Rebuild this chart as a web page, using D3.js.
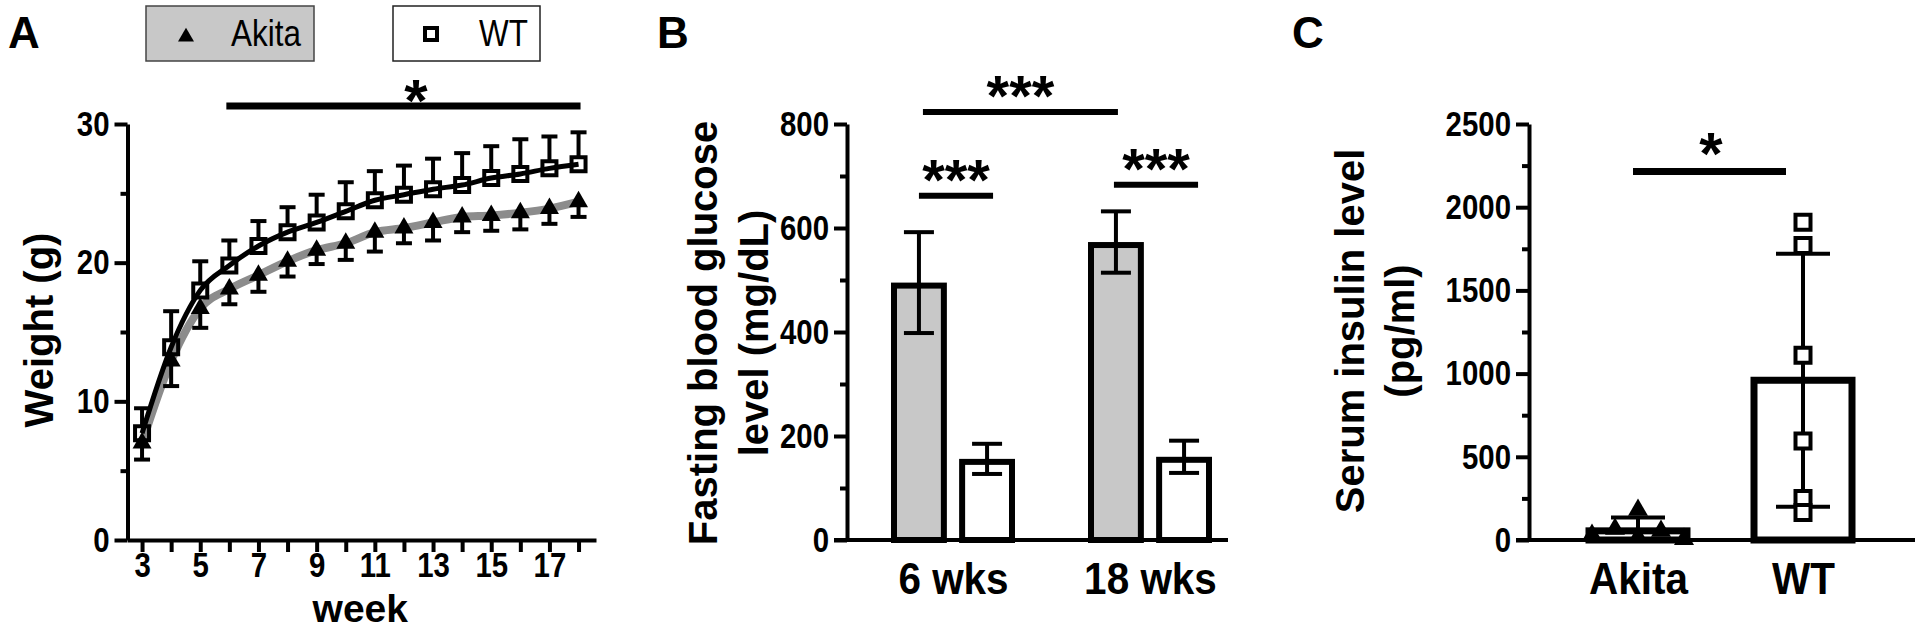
<!DOCTYPE html>
<html><head><meta charset="utf-8">
<script src="https://cdn.jsdelivr.net/npm/d3@7"></script>
<style>
html,body{margin:0;padding:0;background:#fff;}
svg{display:block;}
</style></head><body>
<svg id="chart" width="1920" height="630"></svg>
<script>
// ---------- Panel A: body weight ----------
const weeks = [3,4,5,6,7,8,9,10,11,12,13,14,15,16,17,18];
const akitaWeight   = [7.0,12.9,16.7,18.1,19.1,20.1,20.9,21.4,22.2,22.5,22.9,23.3,23.4,23.6,23.9,24.4];
const akitaWeightSD = [1.2,1.8,1.4,1.1,1.2,1.1,1.0,1.2,1.4,1.1,1.3,1.1,1.1,1.2,1.1,1.1];
const wtWeight      = [7.7,13.9,18.0,19.8,21.2,22.2,22.9,23.7,24.5,24.9,25.3,25.6,26.1,26.4,26.8,27.1];
const wtWeightSD    = [1.8,2.6,2.1,1.8,1.8,1.8,2.0,2.1,2.1,2.1,2.2,2.3,2.3,2.5,2.3,2.3];
const weightTicks = [0,10,20,30];
const weightMinorTicks = [5,15,25];
const weekLabels = [3,5,7,9,11,13,15,17];
const weightSigRange = [6,18];
const weightSigLevel = 31.3;

// ---------- Panel B: fasting glucose ----------
const glucoseGroups = ["6 wks","18 wks"];
const genotypes = ["Akita","WT"];
const akitaGlucose   = [495,573];
const akitaGlucoseSD = [97,59];
const wtGlucose      = [156,160];
const wtGlucoseSD    = [29,31];
const glucoseTicks = [0,200,400,600,800];
const glucoseMinorTicks = [100,300,500,700];
const glucoseSigLevels = [823,662,683]; // Akita 6 vs 18, 6 wks, 18 wks

// ---------- Panel C: serum insulin ----------
const insulinGroups = ["Akita","WT"];
const akitaInsulin = [30,66,180,54,5,18];
const wtInsulin    = [1910,1770,1110,595,250,165];
const insulinMean  = [55,960];
const insulinSD    = [80,760];
const akitaJitter  = [-2,-1,0,1,2,0];
const insulinTicks = [0,500,1000,1500,2000,2500];
const insulinMinorTicks = [250,750,1250,1750,2250];
const insulinSigLevel = 2215;

const FONT = '"Liberation Sans", Arial, Helvetica, sans-serif';
const svg = d3.select("#chart");

function styleAxis(g, fs, sx) {
  g.attr("font-family", null).attr("font-size", null);
  g.selectAll("path.domain").attr("stroke","#000").attr("stroke-width",4);
  g.selectAll(".tick line").attr("stroke","#000").attr("stroke-width",4);
  g.selectAll(".tick text").attr("fill","#000").style("font-family",FONT)
    .style("font-weight","bold").style("font-size",fs+"px")
    .each(function(){
      const t = d3.select(this);
      const x = +(t.attr("x") || 0);
      t.attr("x", x/sx).attr("transform", `scale(${sx},1)`);
    });
}
function minorAxis(parent, axis, x) {
  const g = parent.append("g").attr("transform",`translate(${x},0)`).call(axis);
  g.select(".domain").remove();
  g.selectAll(".tick line").attr("stroke","#000").attr("stroke-width",4);
  return g;
}
function label(x, y, txt, size, weight, anchor, rot, sx) {
  return svg.append("text").attr("x",0).attr("y",0)
    .attr("transform", `translate(${x},${y})` + (rot ? ` rotate(${rot})` : "") + (sx ? ` scale(${sx},1)` : ""))
    .style("font-family",FONT).style("font-size",size+"px")
    .style("font-weight",weight).attr("text-anchor",anchor||"start").attr("fill","#000").text(txt);
}
const triSym = (s) => d3.symbol(d3.symbolTriangle, s*s*Math.sqrt(3)/4);
const sqSym = (s) => d3.symbol(d3.symbolSquare, s*s);
const fmt = d3.format("d");
const TICK_FS = 35, TICK_SX = 0.84, CAT_FS = 44, CAT_SX = 0.92;

// ================= PANEL A =================
const xA = d3.scaleLinear().domain([2.5,18.6]).range([127.5,596]);
const yA = d3.scaleLinear().domain([0,30]).range([540,124]);

label(8, 48, "A", 44, "bold");
// legend
svg.append("rect").attr("x",146).attr("y",6).attr("width",168).attr("height",55)
  .attr("fill","#c8c8c8").attr("stroke","#444").attr("stroke-width",1.5);
svg.append("path").attr("d",triSym(16)()).attr("transform","translate(186,37)").attr("fill","#000");
label(231, 46, "Akita", 37, "normal", "start", 0, 0.85);
svg.append("rect").attr("x",393).attr("y",6).attr("width",147).attr("height",55)
  .attr("fill","#fff").attr("stroke","#222").attr("stroke-width",1.5);
svg.append("path").attr("d",sqSym(12)()).attr("transform","translate(431,34)")
  .attr("fill","none").attr("stroke","#000").attr("stroke-width",4);
label(479, 46, "WT", 37, "normal", "start", 0, 0.85);

const gA = svg.append("g");
const axA_y = gA.append("g").attr("transform",`translate(${xA(2.5)},0)`)
  .call(d3.axisLeft(yA).tickValues(weightTicks).tickSize(13).tickSizeOuter(0).tickPadding(5).tickFormat(fmt));
styleAxis(axA_y, TICK_FS, TICK_SX);
minorAxis(gA, d3.axisLeft(yA).tickValues(weightMinorTicks).tickSize(7).tickFormat(""), xA(2.5));
const axA_x = gA.append("g").attr("transform",`translate(0,${yA(0)})`)
  .call(d3.axisBottom(xA).tickValues(weeks).tickSize(12).tickSizeOuter(0).tickPadding(0)
    .tickFormat(d => weekLabels.includes(d) ? d : ""));
styleAxis(axA_x, TICK_FS, TICK_SX);
label((xA(3)+xA(18))/2, 621.5, "week", 39, "bold", "middle");
label(53, 330, "Weight (g)", 40, "bold", "middle", -90);

const akRows = weeks.map((w,i)=>({w, v:akitaWeight[i], sd:akitaWeightSD[i]}));
const wtRows = weeks.map((w,i)=>({w, v:wtWeight[i], sd:wtWeightSD[i]}));
const lineA = d3.line().x(d=>xA(d.w)).y(d=>yA(d.v)).curve(d3.curveMonotoneX);
gA.append("path").datum(akRows).attr("d",lineA).attr("fill","none").attr("stroke","#8c8c8c").attr("stroke-width",8);
gA.append("path").datum(wtRows).attr("d",lineA).attr("fill","none").attr("stroke","#000").attr("stroke-width",5);

// Akita error bars (down)
const akErr = gA.append("g").attr("stroke","#000").attr("stroke-width",4);
akErr.selectAll("line.v").data(akRows).join("line").attr("x1",d=>xA(d.w)).attr("x2",d=>xA(d.w))
  .attr("y1",d=>yA(d.v)).attr("y2",d=>yA(d.v-d.sd));
akErr.selectAll("line.c").data(akRows).join("line").attr("x1",d=>xA(d.w)-8).attr("x2",d=>xA(d.w)+8)
  .attr("y1",d=>yA(d.v-d.sd)).attr("y2",d=>yA(d.v-d.sd));
gA.selectAll("path.tri").data(akRows).join("path").attr("class","tri")
  .attr("d",triSym(19)()).attr("transform",d=>`translate(${xA(d.w)},${yA(d.v)})`).attr("fill","#000");
// WT error bars (up)
const wtErr = gA.append("g").attr("stroke","#000").attr("stroke-width",4);
wtErr.selectAll("line.v").data(wtRows).join("line").attr("x1",d=>xA(d.w)).attr("x2",d=>xA(d.w))
  .attr("y1",d=>yA(d.v)-8).attr("y2",d=>yA(d.v+d.sd));
wtErr.selectAll("line.c").data(wtRows).join("line").attr("x1",d=>xA(d.w)-8).attr("x2",d=>xA(d.w)+8)
  .attr("y1",d=>yA(d.v+d.sd)).attr("y2",d=>yA(d.v+d.sd));
gA.selectAll("path.sq").data(wtRows).join("path").attr("class","sq")
  .attr("d",sqSym(14)()).attr("transform",d=>`translate(${xA(d.w)},${yA(d.v)})`)
  .attr("fill","none").attr("stroke","#000").attr("stroke-width",4);
// significance
gA.append("line").attr("x1",xA(weightSigRange[0])-3).attr("x2",xA(weightSigRange[1])+2)
  .attr("y1",yA(weightSigLevel)).attr("y2",yA(weightSigLevel)).attr("stroke","#000").attr("stroke-width",7);
label(416, 121, "*", 60, "bold", "middle");

// ================= PANEL B =================
const yB = d3.scaleLinear().domain([0,800]).range([540,124]);
const xB = d3.scalePoint().domain(glucoseGroups).range([953,1150]);
const xBsub = d3.scaleBand().domain(genotypes).range([-62,62]).paddingInner(0.18);
const axisBx = 847;
label(657, 48, "B", 44, "bold");
const gB = svg.append("g");
const glucoseRows = [];
glucoseGroups.forEach((g,i)=>{
  glucoseRows.push({g, k:"Akita", v:akitaGlucose[i], sd:akitaGlucoseSD[i]});
  glucoseRows.push({g, k:"WT", v:wtGlucose[i], sd:wtGlucoseSD[i]});
});
const bw = xBsub.bandwidth(), sw = 6;
gB.selectAll("rect.bar").data(glucoseRows).join("rect").attr("class","bar")
  .attr("x",d=>xB(d.g)+xBsub(d.k)+sw/2).attr("width",bw-sw)
  .attr("y",d=>yB(d.v)+sw/2).attr("height",d=>yB(0)-yB(d.v)-sw/2)
  .attr("fill",d=>d.k==="Akita"?"#c8c8c8":"#fff").attr("stroke","#000").attr("stroke-width",sw);
const cx = d => xB(d.g)+xBsub(d.k)+bw/2;
const eB = gB.append("g").attr("stroke","#000").attr("stroke-width",4);
eB.selectAll("line.v").data(glucoseRows).join("line").attr("x1",cx).attr("x2",cx)
  .attr("y1",d=>yB(d.v-d.sd)).attr("y2",d=>yB(d.v+d.sd));
eB.selectAll("line.t").data(glucoseRows).join("line").attr("x1",d=>cx(d)-15).attr("x2",d=>cx(d)+15)
  .attr("y1",d=>yB(d.v+d.sd)).attr("y2",d=>yB(d.v+d.sd));
eB.selectAll("line.b").data(glucoseRows).join("line").attr("x1",d=>cx(d)-15).attr("x2",d=>cx(d)+15)
  .attr("y1",d=>yB(d.v-d.sd)).attr("y2",d=>yB(d.v-d.sd));
// axes
const axB_y = gB.append("g").attr("transform",`translate(${axisBx},0)`)
  .call(d3.axisLeft(yB).tickValues(glucoseTicks).tickSize(13).tickSizeOuter(0).tickPadding(5).tickFormat(fmt));
styleAxis(axB_y, TICK_FS, TICK_SX);
minorAxis(gB, d3.axisLeft(yB).tickValues(glucoseMinorTicks).tickSize(7).tickFormat(""), axisBx);
gB.append("line").attr("x1",axisBx-13).attr("x2",1228).attr("y1",yB(0)).attr("y2",yB(0))
  .attr("stroke","#000").attr("stroke-width",4);
const axB_x = gB.append("g").attr("transform",`translate(0,${yB(0)})`)
  .call(d3.axisBottom(xB).tickSize(0).tickPadding(23));
axB_x.select(".domain").remove();
styleAxis(axB_x, CAT_FS, CAT_SX);
label(717, 333, "Fasting blood glucose", 40, "bold", "middle", -90);
label(768, 333, "level (mg/dL)", 40, "bold", "middle", -90);
// significance
const sigB = [
  {x1: cx(glucoseRows[0])+4, x2: cx(glucoseRows[2])+2, lvl: glucoseSigLevels[0]},
  {x1: cx(glucoseRows[0]), x2: cx(glucoseRows[1])+6, lvl: glucoseSigLevels[1]},
  {x1: cx(glucoseRows[2])-2, x2: cx(glucoseRows[3])+14, lvl: glucoseSigLevels[2]}
];
gB.selectAll("line.sig").data(sigB).join("line").attr("class","sig")
  .attr("x1",d=>d.x1).attr("x2",d=>d.x2).attr("y1",d=>yB(d.lvl)).attr("y2",d=>yB(d.lvl))
  .attr("stroke","#000").attr("stroke-width",6);
sigB.forEach((d,i)=>{
  label((d.x1+d.x2)/2, yB(d.lvl) + 4, "***", 58, "bold", "middle");
});

// ================= PANEL C =================
const yC = d3.scaleLinear().domain([0,2500]).range([540,124]);
const xC = d3.scalePoint().domain(insulinGroups).range([1638,1803]);
const axisCx = 1529;
label(1292, 48, "C", 44, "bold");
const gC = svg.append("g");
const insRows = insulinGroups.map((g,i)=>({g, v:insulinMean[i], sd:insulinSD[i]}));
const cbw = 105, csw = 7;
gC.selectAll("rect.bar").data(insRows).join("rect").attr("class","bar")
  .attr("x",d=>xC(d.g)-cbw/2+csw/2).attr("width",cbw-csw)
  .attr("y",d=>yC(d.v)).attr("height",d=>yC(0)-yC(d.v))
  .attr("fill","#fff").attr("stroke","#000").attr("stroke-width",csw);
const eC = gC.append("g").attr("stroke","#000").attr("stroke-width",4);
eC.selectAll("line.v").data(insRows).join("line").attr("x1",d=>xC(d.g)).attr("x2",d=>xC(d.g))
  .attr("y1",d=>yC(Math.max(0,d.v-d.sd))).attr("y2",d=>yC(d.v+d.sd));
eC.selectAll("line.t").data(insRows).join("line").attr("x1",d=>xC(d.g)-27).attr("x2",d=>xC(d.g)+27)
  .attr("y1",d=>yC(d.v+d.sd)).attr("y2",d=>yC(d.v+d.sd));
eC.selectAll("line.b").data(insRows.filter(d=>d.v-d.sd>0)).join("line")
  .attr("x1",d=>xC(d.g)-27).attr("x2",d=>xC(d.g)+27)
  .attr("y1",d=>yC(d.v-d.sd)).attr("y2",d=>yC(d.v-d.sd));
gC.selectAll("path.tri").data(akitaInsulin).join("path").attr("class","tri")
  .attr("d",triSym(20)()).attr("transform",(d,i)=>`translate(${xC("Akita")+akitaJitter[i]*23},${yC(d)})`)
  .attr("fill","#000");
gC.selectAll("path.sq").data(wtInsulin).join("path").attr("class","sq")
  .attr("d",sqSym(15)()).attr("transform",d=>`translate(${xC("WT")},${yC(d)})`)
  .attr("fill","#fff").attr("stroke","#000").attr("stroke-width",4);
const axC_y = gC.append("g").attr("transform",`translate(${axisCx},0)`)
  .call(d3.axisLeft(yC).tickValues(insulinTicks).tickSize(13).tickSizeOuter(0).tickPadding(5).tickFormat(fmt));
styleAxis(axC_y, TICK_FS, TICK_SX);
minorAxis(gC, d3.axisLeft(yC).tickValues(insulinMinorTicks).tickSize(7).tickFormat(""), axisCx);
gC.append("line").attr("x1",axisCx-13).attr("x2",1915).attr("y1",yC(0)).attr("y2",yC(0))
  .attr("stroke","#000").attr("stroke-width",4);
const axC_x = gC.append("g").attr("transform",`translate(0,${yC(0)})`)
  .call(d3.axisBottom(xC).tickSize(0).tickPadding(23));
axC_x.select(".domain").remove();
styleAxis(axC_x, CAT_FS, CAT_SX);
label(1364, 331, "Serum insulin level", 40, "bold", "middle", -90);
label(1414, 331, "(pg/ml)", 40, "bold", "middle", -90);
gC.append("line").attr("x1",xC("Akita")-5).attr("x2",xC("WT")-17)
  .attr("y1",yC(insulinSigLevel)).attr("y2",yC(insulinSigLevel)).attr("stroke","#000").attr("stroke-width",7);
label(1711, 174, "*", 60, "bold", "middle");
</script>
</body></html>
